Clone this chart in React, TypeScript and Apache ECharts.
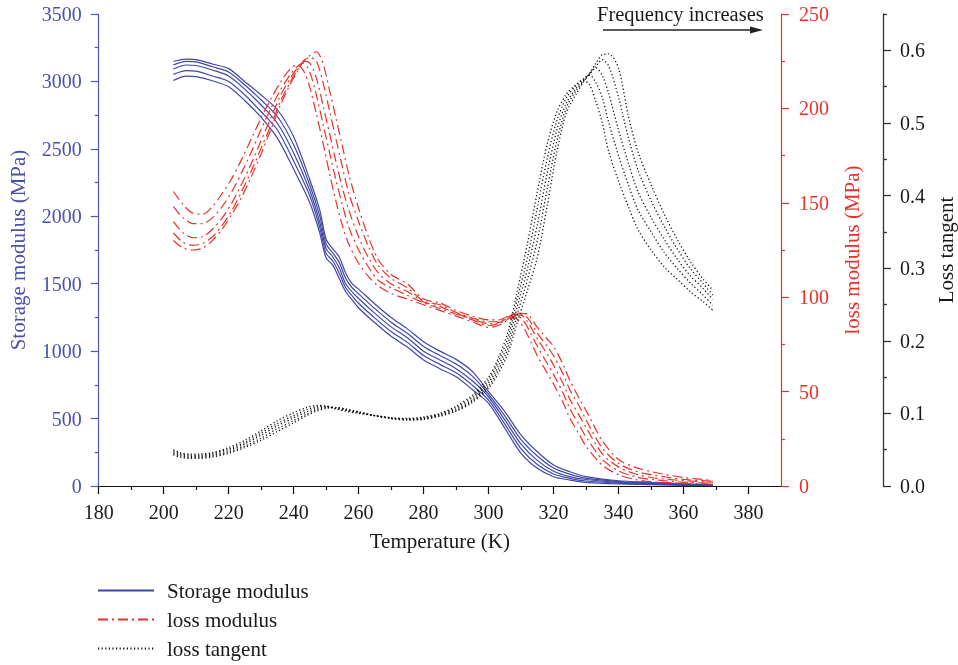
import React, { useEffect, useRef } from "react";
import * as echarts from "echarts";

const FONT = '"Liberation Serif", "DejaVu Serif", serif';
const BLUE = "#3f47a6";
const BLUE_AXIS = "#5158b6";
const RED = "#e6332a";
const BLACK = "#111111";

// ---- Storage modulus (MPa), five frequencies (f1 lowest ... f5 highest)
const storageTemps = [203, 207, 210, 215, 220, 225, 230, 235, 240, 245, 248, 250, 252, 254, 256, 258, 260, 265, 270, 275, 280, 285, 290, 295, 300, 305, 310, 315, 320, 325, 330, 340, 350, 360, 369];
const storageF1 = [3008, 3040, 3035, 3005, 2960, 2857, 2734, 2580, 2350, 2099, 1880, 1690, 1640, 1540, 1440, 1380, 1320, 1210, 1110, 1030, 934, 870, 810, 715, 613, 428, 242, 131, 69, 44, 27, 15, 10, 5, 2];
const storageF2 = [3052, 3080, 3076, 3040, 3000, 2899, 2775, 2640, 2410, 2150, 1920, 1725, 1670, 1580, 1470, 1410, 1355, 1245, 1145, 1065, 967, 902, 840, 748, 636, 459, 276, 160, 89, 57, 37, 21, 13, 7, 3];
const storageF3 = [3092, 3122, 3118, 3085, 3040, 2941, 2825, 2690, 2470, 2190, 1960, 1760, 1700, 1620, 1500, 1440, 1390, 1280, 1180, 1100, 1000, 935, 870, 780, 660, 490, 310, 190, 110, 70, 48, 27, 17, 10, 5];
const storageF4 = [3123, 3149, 3145, 3109, 3070, 2973, 2862, 2740, 2530, 2230, 2005, 1795, 1730, 1660, 1540, 1470, 1425, 1315, 1215, 1132, 1035, 968, 905, 815, 680, 520, 344, 222, 133, 88, 58, 33, 22, 13, 6];
const storageF5 = [3148, 3166, 3162, 3129, 3095, 2998, 2899, 2790, 2590, 2269, 2050, 1830, 1760, 1700, 1580, 1500, 1460, 1350, 1250, 1165, 1070, 1000, 939, 850, 700, 551, 378, 254, 156, 106, 69, 39, 27, 16, 8];

// ---- Loss modulus (MPa)
const lossTemps = [203, 206, 209, 212, 215, 218, 221, 224, 227, 230, 233, 236, 239, 241, 243, 245, 247, 249, 251, 253, 255, 257, 260, 263, 266, 270, 275, 280, 285, 290, 295, 300, 303, 306, 308, 310, 312, 315, 318, 320, 323, 325, 328, 330, 335, 340, 345, 350, 360, 369];
const lossF1 = [156, 149, 144.5, 144, 148, 155, 163, 173, 184, 195, 205, 214, 221, 223, 220, 211, 197, 182, 166, 151, 138, 128, 118, 111, 106, 102, 99, 96, 93, 90, 87, 84, 85, 88, 89, 86, 80, 69, 60, 54, 44, 36, 27, 21, 11, 6, 3.5, 2.3, 1.5, 1];
const lossF2 = [148, 142, 139, 139, 142, 148, 156, 166, 177, 189, 200, 210, 218, 222, 224, 219, 207, 192, 177, 162, 149, 137, 125, 116, 109, 105, 101, 97, 94, 91, 88, 85, 86, 88.5, 90, 89, 84, 74, 65, 59, 49, 41, 32, 26, 14, 8, 5, 3.5, 2, 1.5];
const lossF3 = [140, 134, 131.5, 132, 136, 142, 150, 160, 171, 183, 195, 207, 216, 221, 225, 224, 216, 202, 187, 172, 158, 146, 132, 121, 113, 107, 103, 97.5, 95, 91.5, 88.5, 86, 86.5, 89, 90.5, 90.5, 87, 78, 70, 64, 54, 46, 37, 31, 17, 10, 6.5, 4.5, 2.8, 2];
const lossF4 = [134, 129, 127.5, 128.5, 132, 138, 146, 156, 167, 179, 191, 204, 214, 220, 225, 227, 225, 214, 199, 184, 169, 155, 140, 127, 117, 110, 105, 98, 96, 92, 89, 87, 87, 89.5, 91, 91, 89, 81, 74, 69, 59, 51, 42, 35, 20, 12, 8, 6, 3.5, 2.5];
const lossF5 = [130, 126, 125, 126, 130, 136, 144, 153, 164, 176, 189, 202, 213, 219, 225, 228, 230, 224, 210, 195, 180, 165, 147, 132, 120, 112, 107, 99, 97, 93, 90, 88, 88, 90, 91.5, 91.5, 91, 84, 78, 74, 64, 56, 46, 40, 24, 14, 10, 7.6, 4.5, 3];

// ---- Loss tangent
const tanTemps = [203, 205, 208, 211, 215, 220, 225, 230, 235, 240, 244, 247, 250, 253, 256, 260, 265, 270, 275, 280, 285, 290, 295, 300, 303, 306, 309, 312, 315, 318, 321, 324, 327, 329, 331, 333, 335, 337, 340, 343, 346, 350, 354, 358, 362, 366, 369];
const tanF1 = [0.05, 0.046, 0.044, 0.044, 0.046, 0.053, 0.063, 0.076, 0.09, 0.101, 0.108, 0.111, 0.11, 0.106, 0.103, 0.1, 0.097, 0.094, 0.093, 0.095, 0.1, 0.11, 0.125, 0.15, 0.176, 0.213, 0.272, 0.335, 0.405, 0.47, 0.515, 0.54, 0.553, 0.559, 0.553, 0.53, 0.5, 0.46, 0.42, 0.385, 0.353, 0.325, 0.302, 0.285, 0.268, 0.254, 0.242];
const tanF2 = [0.048, 0.0445, 0.0425, 0.0425, 0.0445, 0.051, 0.06, 0.073, 0.086, 0.097, 0.105, 0.109, 0.11, 0.107, 0.104, 0.101, 0.097, 0.094, 0.092, 0.094, 0.099, 0.108, 0.122, 0.146, 0.171, 0.205, 0.261, 0.315, 0.383, 0.45, 0.503, 0.535, 0.552, 0.56, 0.566, 0.556, 0.535, 0.5, 0.455, 0.415, 0.38, 0.35, 0.322, 0.3, 0.28, 0.263, 0.249];
const tanF3 = [0.046, 0.043, 0.041, 0.041, 0.043, 0.049, 0.058, 0.07, 0.083, 0.094, 0.102, 0.107, 0.109, 0.108, 0.105, 0.101, 0.097, 0.093, 0.092, 0.093, 0.098, 0.106, 0.119, 0.142, 0.165, 0.197, 0.25, 0.3, 0.36, 0.43, 0.49, 0.528, 0.548, 0.558, 0.567, 0.576, 0.565, 0.54, 0.49, 0.445, 0.405, 0.37, 0.34, 0.313, 0.29, 0.272, 0.257];
const tanF4 = [0.0445, 0.0415, 0.0395, 0.0395, 0.0415, 0.047, 0.055, 0.066, 0.079, 0.09, 0.099, 0.105, 0.108, 0.108, 0.106, 0.102, 0.097, 0.093, 0.091, 0.092, 0.097, 0.104, 0.117, 0.138, 0.16, 0.19, 0.239, 0.285, 0.338, 0.408, 0.475, 0.522, 0.545, 0.556, 0.567, 0.578, 0.587, 0.578, 0.535, 0.48, 0.435, 0.393, 0.358, 0.327, 0.3, 0.279, 0.263];
const tanF5 = [0.043, 0.04, 0.038, 0.038, 0.04, 0.045, 0.053, 0.063, 0.075, 0.087, 0.097, 0.103, 0.107, 0.108, 0.106, 0.102, 0.097, 0.093, 0.091, 0.092, 0.096, 0.103, 0.115, 0.135, 0.155, 0.183, 0.228, 0.27, 0.315, 0.385, 0.46, 0.515, 0.54, 0.555, 0.568, 0.582, 0.594, 0.595, 0.575, 0.51, 0.46, 0.415, 0.375, 0.34, 0.31, 0.285, 0.27];

// ---- Tick values
const xLabelTicks = [180, 200, 220, 240, 260, 280, 300, 320, 340, 360, 380];
const xMinorTicks = [190, 210, 230, 250, 270, 290, 310, 330, 350, 370];
const tanLabelTicks = [0, 0.1, 0.2, 0.3, 0.4, 0.5, 0.6];
const tanMinorTicks = [0.05, 0.15, 0.25, 0.35, 0.45, 0.55, 0.65];

const legendNames = ["Storage modulus", "loss modulus", "loss tangent"];

function pairs(t: number[], v: number[]) {
  return t.map((x, i) => [x, v[i]]);
}

export default function App() {
  const ref = useRef<HTMLDivElement>(null);
  useEffect(() => {
    const chart = echarts.init(ref.current!, null, { renderer: "svg" });
    const mk = (name: string, data: number[][], yIdx: number, color: string, type: any, width: number) => ({
      type: "line",
      name,
      xAxisIndex: 0,
      yAxisIndex: yIdx,
      data,
      symbol: "none",
      showSymbol: false,
      smooth: 0.3,
      lineStyle: { color, width, type },
      itemStyle: { color },
      silent: true,
    });
    const series: any[] = [];
    [storageF1, storageF2, storageF3, storageF4, storageF5].forEach((v) =>
      series.push(mk(legendNames[0], pairs(storageTemps, v), 0, BLUE, "solid", 1.2))
    );
    [lossF1, lossF2, lossF3, lossF4, lossF5].forEach((v) =>
      series.push(mk(legendNames[1], pairs(lossTemps, v), 1, RED, [10, 4, 2, 4], 1.2))
    );
    [tanF1, tanF2, tanF3, tanF4, tanF5].forEach((v) =>
      series.push(mk(legendNames[2], pairs(tanTemps, v), 2, BLACK, [1.2, 2.4], 1.3))
    );

    const tickFont = { fontFamily: FONT, fontSize: 20 };
    const nameFont = { fontFamily: FONT, fontSize: 21 };

    chart.setOption({
      animation: false,
      grid: { left: 98.7, right: 177, top: 14, bottom: 179, containLabel: false, outerBoundsMode: "none" },
      legend: {
        data: legendNames,
        orient: "vertical",
        left: 97,
        top: 580,
        padding: 0,
        itemWidth: 56,
        itemHeight: 21,
        itemGap: 8,
        selectedMode: false,
        itemStyle: { color: "transparent", borderWidth: 0, opacity: 0 },
        textStyle: { ...nameFont, color: "#1a1a1a", padding: [0, 0, 0, 8] },
      },
      xAxis: [
        {
          type: "value",
          position: "bottom",
          min: 180,
          max: 390,
          interval: 10,
          axisLine: { show: true, lineStyle: { color: "#111", width: 1.2 } },
          axisTick: { show: true, length: 8, customValues: xLabelTicks, lineStyle: { color: "#111", width: 1.2 } },
          axisLabel: { ...tickFont, color: "#1a1a1a", margin: 16, customValues: xLabelTicks },
          splitLine: { show: false },
          name: "Temperature (K)",
          nameLocation: "middle",
          nameGap: 44,
          nameTextStyle: { ...nameFont, color: "#1a1a1a" },
        },
        {
          type: "value",
          position: "bottom",
          min: 180,
          max: 390,
          interval: 10,
          axisLine: { show: false },
          axisTick: { show: true, length: 4, customValues: xMinorTicks, lineStyle: { color: "#111", width: 1.2 } },
          axisLabel: { show: false },
          splitLine: { show: false },
        },
      ],
      yAxis: [
        {
          type: "value",
          position: "left",
          min: 0,
          max: 3500,
          interval: 500,
          axisLine: { show: true, lineStyle: { color: BLUE_AXIS, width: 1.2 } },
          axisTick: { show: true, length: 8, lineStyle: { color: BLUE_AXIS, width: 1.2 } },
          minorTick: { show: true, splitNumber: 2, length: 4, lineStyle: { color: BLUE_AXIS, width: 1.2 } },
          axisLabel: { ...tickFont, color: "#4a50ad", margin: 17, formatter: (v: number) => String(v) },
          splitLine: { show: false },
          name: "Storage modulus (MPa)",
          nameLocation: "middle",
          nameGap: 70,
          nameTextStyle: { ...nameFont, color: "#4a50ad" },
        },
        {
          type: "value",
          position: "right",
          offset: 0,
          min: 0,
          max: 250,
          interval: 50,
          axisLine: { show: true, lineStyle: { color: RED, width: 1.2 } },
          axisTick: { show: true, length: 8, lineStyle: { color: RED, width: 1.2 } },
          minorTick: { show: true, splitNumber: 2, length: 4, lineStyle: { color: RED, width: 1.2 } },
          axisLabel: { ...tickFont, color: RED, margin: 18, formatter: (v: number) => String(v) },
          splitLine: { show: false },
          name: "loss modulus (MPa)",
          nameLocation: "middle",
          nameGap: 60,
          nameTextStyle: { ...nameFont, color: RED },
        },
        {
          type: "value",
          position: "right",
          offset: 102,
          min: 0,
          max: 0.65,
          interval: 0.05,
          axisLine: { show: true, lineStyle: { color: "#333", width: 1.3 } },
          axisTick: { show: true, length: 8, customValues: tanLabelTicks, lineStyle: { color: "#333", width: 1.3 } },
          axisLabel: {
            ...tickFont,
            color: "#1a1a1a",
            margin: 17,
            customValues: tanLabelTicks,
            formatter: (v: number) => v.toFixed(1),
          },
          splitLine: { show: false },
          name: "Loss tangent",
          nameLocation: "middle",
          nameGap: 52,
          nameTextStyle: { ...nameFont, color: "#1a1a1a" },
        },
        {
          type: "value",
          position: "right",
          offset: 102,
          min: 0,
          max: 0.65,
          interval: 0.05,
          axisLine: { show: false },
          axisTick: { show: true, length: 4, customValues: tanMinorTicks, lineStyle: { color: "#333", width: 1.3 } },
          axisLabel: { show: false },
          splitLine: { show: false },
        },
      ],
      graphic: [
        {
          type: "text",
          left: 597,
          top: 3,
          style: { text: "Frequency increases", font: `20.5px ${FONT}`, fill: "#1a1a1a" },
        },
        {
          type: "line",
          shape: { x1: 603, y1: 30, x2: 752, y2: 30 },
          style: { stroke: "#222", lineWidth: 1.3 },
        },
        {
          type: "polygon",
          shape: { points: [[763, 30], [750, 26.5], [750, 33.5]] },
          style: { fill: "#222" },
        },
      ],
      series,
    });
    return () => chart.dispose();
  }, []);
  return <div ref={ref} style={{ position: "fixed", left: 0, top: 0, width: 958, height: 665 }} />;
}
